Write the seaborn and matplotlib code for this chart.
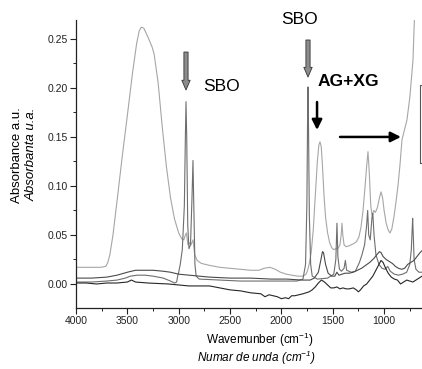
import numpy as np
import pandas as pd
import matplotlib
matplotlib.use("Agg")
import matplotlib.pyplot as plt
import seaborn as sns
from matplotlib.patches import Rectangle
from matplotlib.ticker import MultipleLocator, FormatStrFormatter

sns.set_style("ticks")
plt.rcParams["font.family"] = ["Liberation Sans", "DejaVu Sans"]
plt.rcParams["mathtext.default"] = "regular"
plt.rcParams["text.color"] = "black"

# ---- data (wavenumber cm-1, absorbance a.u.) ----
GUM_WN = [4000, 3850, 3760, 3710, 3690, 3670, 3640, 3600, 3550, 3500, 3450, 3410, 3385, 3365, 3340,
          3300, 3260, 3240, 3200, 3160, 3120, 3080, 3040, 3000, 2970, 2950, 2935, 2925, 2910, 2895,
          2880, 2860, 2845, 2820, 2780, 2700, 2600, 2500, 2400, 2300, 2220, 2170, 2110, 2060, 2010,
          1950, 1900, 1840, 1790, 1760, 1745, 1730, 1710, 1690, 1670, 1650, 1635, 1624, 1612, 1600,
          1585, 1570, 1550, 1530, 1510, 1490, 1470, 1450, 1430, 1418, 1410, 1402, 1390, 1370, 1340,
          1300, 1270, 1245, 1225, 1205, 1185, 1170, 1157, 1145, 1130, 1118, 1100, 1085, 1065, 1045,
          1030, 1015, 1000, 980, 960, 943, 925, 905, 885, 865, 845, 826, 800, 778, 750,
          719, 705, 690, 660, 631]
GUM_AB = [0.017, 0.017, 0.017, 0.018, 0.022, 0.030, 0.050, 0.085, 0.130, 0.172, 0.215, 0.245, 0.258, 0.262, 0.261,
          0.252, 0.242, 0.235, 0.205, 0.160, 0.120, 0.088, 0.066, 0.052, 0.046, 0.045, 0.050, 0.052, 0.040, 0.042,
          0.040, 0.045, 0.030, 0.024, 0.021, 0.019, 0.017, 0.016, 0.015, 0.014, 0.014, 0.016, 0.017, 0.015, 0.012,
          0.010, 0.009, 0.008, 0.008, 0.010, 0.014, 0.020, 0.032, 0.055, 0.090, 0.125, 0.142, 0.145, 0.140, 0.120,
          0.090, 0.068, 0.052, 0.042, 0.037, 0.035, 0.036, 0.036, 0.040, 0.050, 0.062, 0.050, 0.040, 0.038, 0.039,
          0.041, 0.043, 0.048, 0.058, 0.075, 0.100, 0.120, 0.135, 0.115, 0.080, 0.070, 0.075, 0.073, 0.078, 0.088,
          0.094, 0.088, 0.075, 0.062, 0.055, 0.052, 0.056, 0.068, 0.083, 0.100, 0.122, 0.147, 0.158, 0.167, 0.190,
          0.228, 0.270, 0.300, 0.330, 0.360]

SBO_WN = [4000, 3850, 3700, 3600, 3520, 3470, 3400, 3330, 3250, 3150, 3080, 3040, 3020, 3010, 3000,
          2985, 2965, 2945, 2935, 2929, 2922, 2912, 2900, 2885, 2870, 2861, 2853, 2842, 2830, 2800,
          2600, 2400, 2200, 2000, 1850, 1790, 1765, 1752, 1745, 1741, 1736, 1728, 1715, 1700, 1650,
          1550, 1490, 1470, 1459, 1450, 1435, 1415, 1390, 1377, 1365, 1320, 1280, 1240, 1215, 1190,
          1170, 1160, 1150, 1135, 1118, 1110, 1098, 1080, 1050, 1020, 990, 965, 940, 900, 860,
          820, 780, 750, 735, 727, 722, 716, 708, 690, 660, 631]
SBO_AB = [0.002, 0.002, 0.003, 0.004, 0.006, 0.008, 0.009, 0.009, 0.008, 0.006, 0.003, 0.001, 0.002, 0.008, 0.012,
          0.020, 0.035, 0.080, 0.150, 0.186, 0.150, 0.060, 0.036, 0.040, 0.090, 0.126, 0.080, 0.020, 0.008, 0.005,
          0.004, 0.003, 0.003, 0.003, 0.003, 0.005, 0.020, 0.080, 0.170, 0.201, 0.160, 0.070, 0.020, 0.008, 0.005,
          0.006, 0.010, 0.025, 0.062, 0.028, 0.015, 0.013, 0.016, 0.024, 0.014, 0.012, 0.013, 0.022, 0.030, 0.040,
          0.060, 0.075, 0.050, 0.045, 0.068, 0.072, 0.050, 0.030, 0.020, 0.016, 0.015, 0.018, 0.013, 0.010, 0.009,
          0.010, 0.012, 0.020, 0.035, 0.055, 0.067, 0.050, 0.025, 0.015, 0.012, 0.012]

EUP_WN = [4000, 3850, 3700, 3600, 3500, 3420, 3330, 3250, 3150, 3080, 3000, 2900, 2800, 2700, 2500,
          2300, 2100, 1950, 1800, 1720, 1680, 1640, 1615, 1600, 1590, 1570, 1545, 1510, 1480, 1460,
          1440, 1410, 1380, 1340, 1300, 1260, 1220, 1180, 1140, 1100, 1070, 1045, 1030, 1010, 980,
          950, 920, 890, 860, 830, 800, 770, 740, 710, 680, 650, 631]
EUP_AB = [0.006, 0.006, 0.007, 0.009, 0.012, 0.014, 0.014, 0.014, 0.013, 0.012, 0.010, 0.009, 0.008, 0.007, 0.006,
          0.006, 0.005, 0.005, 0.004, 0.004, 0.006, 0.012, 0.025, 0.033, 0.032, 0.020, 0.011, 0.008, 0.008, 0.012,
          0.009, 0.010, 0.011, 0.011, 0.012, 0.014, 0.016, 0.019, 0.022, 0.026, 0.030, 0.033, 0.032, 0.028, 0.025,
          0.023, 0.021, 0.018, 0.016, 0.015, 0.016, 0.020, 0.022, 0.024, 0.028, 0.032, 0.034]

ELOW_WN = [4000, 3900, 3800, 3700, 3600, 3500, 3460, 3420, 3300, 3100, 3000, 2900, 2800, 2700, 2600,
           2500, 2400, 2300, 2200, 2160, 2120, 2080, 2040, 2000, 1960, 1930, 1900, 1870, 1830, 1790,
           1760, 1730, 1700, 1670, 1640, 1610, 1580, 1550, 1520, 1490, 1460, 1430, 1400, 1370, 1340,
           1300, 1270, 1250, 1230, 1200, 1170, 1140, 1110, 1080, 1050, 1030, 1010, 985, 960, 930,
           900, 870, 840, 810, 780, 750, 720, 690, 660, 631]
ELOW_AB = [0.001, 0.001, 0.000, 0.001, 0.001, 0.002, 0.004, 0.002, 0.001, 0.000, -0.001, -0.002, -0.002, -0.002, -0.004,
           -0.006, -0.007, -0.009, -0.010, -0.013, -0.011, -0.012, -0.013, -0.015, -0.014, -0.015, -0.012, -0.012, -0.011, -0.010,
           -0.009, -0.008, -0.006, -0.003, 0.001, 0.004, 0.002, -0.001, -0.004, -0.004, -0.003, -0.005, -0.004, -0.005, -0.005,
           -0.004, -0.006, -0.008, -0.006, -0.002, 0.000, 0.004, 0.008, 0.014, 0.020, 0.024, 0.022, 0.016, 0.011, 0.007,
           0.005, 0.004, 0.000, 0.002, 0.004, 0.003, 0.002, 0.004, 0.006, 0.008]

SAMPLES = ["gum", "sbo", "e_up", "e_low"]
COLORS = ["#a6a6a6", "#6e6e6e", "#4a4a4a", "#262626"]

frames = []
for name, wn, ab in zip(SAMPLES, [GUM_WN, SBO_WN, EUP_WN, ELOW_WN], [GUM_AB, SBO_AB, EUP_AB, ELOW_AB]):
    frames.append(pd.DataFrame({"wn": wn, "ab": ab, "sample": name}))
df = pd.concat(frames, ignore_index=True)

W, H = 422, 369
fig = plt.figure(figsize=(W / 100, H / 100), dpi=100)
ax = fig.add_axes([76 / W, 1 - 308 / H, (W - 76) / W, (308 - 20) / H])

sns.lineplot(data=df, x="wn", y="ab", hue="sample", hue_order=SAMPLES,
             palette=dict(zip(SAMPLES, COLORS)), estimator=None, sort=True,
             linewidth=0.8, legend=False, ax=ax)

ax.set_xlim(4000, 631)
ax.set_ylim(-0.0245, 0.2693)
ax.xaxis.set_major_locator(MultipleLocator(500))
ax.xaxis.set_minor_locator(MultipleLocator(250))
ax.yaxis.set_major_locator(MultipleLocator(0.05))
ax.yaxis.set_minor_locator(MultipleLocator(0.025))
ax.yaxis.set_major_formatter(FormatStrFormatter("%.2f"))
ax.tick_params(which="major", direction="out", length=4, width=0.8, labelsize=7.5, pad=2,
               color="#222222", labelcolor="#222222")
ax.tick_params(which="minor", direction="out", length=2.5, width=0.7, color="#222222")
ax.set_xlabel("")
ax.set_ylabel("")
sns.despine(ax=ax)
for s in ["left", "bottom"]:
    ax.spines[s].set_linewidth(0.9)
    ax.spines[s].set_color("#222222")

# annotations
ax.text(2763, 0.201, "SBO", fontsize=12.5, ha="left", va="center", color="black")
ax.text(1819, 0.2703, "SBO", fontsize=12.5, ha="center", va="center", clip_on=False, color="black")
ax.text(1644, 0.207, "AG+XG", fontsize=12.5, fontweight="bold", ha="left", va="center", color="black")

gray_arrow = dict(arrowstyle="simple,head_width=0.6,head_length=0.7,tail_width=0.3",
                  fc="#8c8c8c", ec="#333333", lw=0.6, shrinkA=0, shrinkB=0, mutation_scale=10)
ax.annotate("", xy=(2929, 0.1979), xytext=(2929, 0.2366), arrowprops=gray_arrow)
ax.annotate("", xy=(1741, 0.2111), xytext=(1741, 0.2489), arrowprops=gray_arrow)
black_arrow = dict(arrowstyle="-|>,head_width=0.3,head_length=0.6", color="black", lw=1.8,
                   shrinkA=0, shrinkB=0, mutation_scale=10)
ax.annotate("", xy=(1653, 0.1571), xytext=(1653, 0.1856), arrowprops=black_arrow)
ax.annotate("", xy=(836, 0.150), xytext=(1429, 0.150), arrowprops=black_arrow)

# axis titles
fig.text(17 / W, 1 - 155 / H, "Absorbance a.u.", rotation=90, ha="center", va="center", fontsize=9.5)
fig.text(32 / W, 1 - 154 / H, "Absorbanta u.a.", rotation=90, ha="center", va="center", fontsize=9.5, style="italic")
fig.text(260 / W, 1 - 340 / H, "Wavemunber (cm$^{-1}$)", ha="center", va="center", fontsize=8.5)
fig.text(256 / W, 1 - 358 / H, "Numar de unda (cm$^{-1}$)", ha="center", va="center", fontsize=8.5, style="italic")

# partially visible legend frame at right edge
fig.add_artist(Rectangle((420 / W, 1 - 163 / H), 0.05, (163 - 85) / H, transform=fig.transFigure,
                         fill=False, ec="#555555", lw=0.8))

fig.savefig("out.png", dpi=100)
